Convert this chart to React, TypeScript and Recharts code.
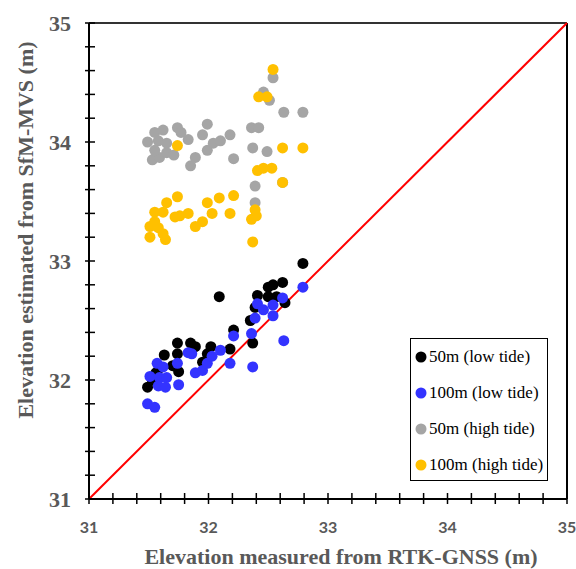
import {
  Label,
  Legend,
  ReferenceLine,
  Scatter,
  ScatterChart,
  XAxis,
  YAxis,
} from "recharts";

// [measured RTK-GNSS, estimated SfM-MVS] in metres
const lowTide50m: [number, number][] = [
  [31.49, 31.94], [31.53, 32.0], [31.59, 32.1], [31.63, 32.21], [31.74, 32.31],
  [31.74, 32.22], [31.85, 32.31], [31.89, 32.28], [32.02, 32.28], [31.99, 32.22],
  [31.95, 32.15], [31.75, 32.07], [32.09, 32.7], [32.21, 32.42], [32.18, 32.26],
  [32.35, 32.5], [32.37, 32.31], [32.39, 32.61], [32.41, 32.71], [32.5, 32.78],
  [32.54, 32.8], [32.62, 32.82], [32.5, 32.7], [32.57, 32.7], [32.64, 32.65],
  [32.79, 32.98], [31.7, 32.12], [31.56, 32.06],
];

const lowTide100m: [number, number][] = [
  [31.49, 31.8], [31.55, 31.77], [31.51, 32.03], [31.57, 32.14], [31.62, 32.11],
  [31.59, 32.02], [31.65, 32.02], [31.58, 31.95], [31.64, 31.94], [31.74, 32.14],
  [31.75, 31.96], [31.83, 32.23], [31.86, 32.22], [31.89, 32.06], [31.95, 32.08],
  [31.99, 32.14], [32.03, 32.2], [32.1, 32.25], [32.18, 32.14], [32.21, 32.37],
  [32.36, 32.39], [32.37, 32.11], [32.39, 32.52], [32.41, 32.64], [32.46, 32.59],
  [32.54, 32.63], [32.54, 32.54], [32.62, 32.69], [32.63, 32.33], [32.79, 32.78],
];

const highTide50m: [number, number][] = [
  [31.49, 34.0], [31.55, 34.08], [31.62, 34.1], [31.58, 34.01], [31.65, 33.99],
  [31.74, 34.12], [31.77, 34.08], [31.83, 34.02], [31.53, 33.85], [31.59, 33.87],
  [31.65, 33.91], [31.71, 33.89], [31.89, 33.87], [31.85, 33.8], [31.55, 33.93],
  [31.99, 34.15], [31.95, 34.06], [31.99, 33.93], [32.04, 33.99], [32.1, 34.01],
  [32.18, 34.06], [32.21, 33.86], [32.36, 34.12], [32.42, 34.12], [32.37, 33.95],
  [32.49, 33.92], [32.39, 33.63], [32.39, 33.49], [32.62, 33.66], [32.54, 34.54],
  [32.46, 34.42], [32.51, 34.35], [32.63, 34.25], [32.79, 34.25],
];

const highTide100m: [number, number][] = [
  [31.74, 33.97], [32.54, 34.61], [32.42, 34.38], [32.49, 34.38], [32.62, 33.95],
  [32.79, 33.95], [32.41, 33.76], [32.46, 33.78], [32.53, 33.78], [32.62, 33.66],
  [32.39, 33.43], [32.36, 33.35], [32.4, 33.38], [32.37, 33.16], [31.74, 33.54],
  [31.65, 33.49], [31.55, 33.41], [31.62, 33.41], [31.51, 33.29], [31.51, 33.2],
  [31.58, 33.28], [31.64, 33.18], [31.62, 33.23], [31.72, 33.37], [31.76, 33.38],
  [31.83, 33.4], [31.89, 33.29], [31.95, 33.33], [31.99, 33.49], [32.03, 33.4],
  [32.09, 33.53], [32.18, 33.4], [32.21, 33.55], [31.55, 33.33],
];

const axisTicks = [
  31, 31.2, 31.4, 31.6, 31.8, 32, 32.2, 32.4, 32.6, 32.8, 33,
  33.2, 33.4, 33.6, 33.8, 34, 34.2, 34.4, 34.6, 34.8, 35,
];

const series = [
  { name: "50m (low tide)", color: "#000000", points: lowTide50m },
  { name: "100m (low tide)", color: "#3333FF", points: lowTide100m },
  { name: "50m (high tide)", color: "#A5A5A5", points: highTide50m },
  { name: "100m (high tide)", color: "#FFC000", points: highTide100m },
];

const SERIF = "'Times New Roman', 'Liberation Serif', serif";
const GREY = "#595959";

const isMajor = (v: number) => Math.abs(v - Math.round(v)) < 1e-6;

function XTick({ x, y, payload }: any) {
  return (
    <g>
      <line x1={x} x2={x} y1={y - 6} y2={y + 5} stroke="#000" strokeWidth={1.5} />
      {isMajor(payload.value) && (
        <text
          x={x}
          y={y + 34}
          textAnchor="middle"
          fontFamily="Lato, 'Liberation Sans', sans-serif"
          fontWeight={700}
          fontSize={16}
          fill={GREY}
        >
          {Math.round(payload.value)}
        </text>
      )}
    </g>
  );
}

function YTick({ x, y, payload }: any) {
  return (
    <g>
      <line x1={x - 4} x2={x + 6} y1={y} y2={y} stroke="#000" strokeWidth={1.5} />
      {isMajor(payload.value) && (
        <text
          x={x - 18}
          y={y + 7.5}
          textAnchor="end"
          fontFamily={SERIF}
          fontWeight={700}
          fontSize={22}
          fill={GREY}
        >
          {Math.round(payload.value)}
        </text>
      )}
    </g>
  );
}

function Dot({ cx, cy, fill }: any) {
  return <circle cx={cx} cy={cy} r={5.5} fill={fill} />;
}

// legend follows the series order (black, blue, grey, orange), top to bottom
function LegendBox() {
  return (
    <div
      style={{
        width: 138,
        height: 143,
        border: "1.5px solid #000",
        background: "#fff",
        boxSizing: "border-box",
        paddingTop: 0,
        fontFamily: SERIF,
        fontSize: 17,
        color: "#000",
      }}
    >
      {series.map((s) => (
        <div
          key={s.name}
          style={{ display: "flex", alignItems: "center", height: 36, paddingLeft: 4 }}
        >
          <svg width={13} height={12} style={{ marginRight: 1, flexShrink: 0 }}>
            <circle cx={6} cy={6} r={5.5} fill={s.color} />
          </svg>
          <span style={{ whiteSpace: "nowrap" }}>{s.name}</span>
        </div>
      ))}
    </div>
  );
}

export default function App() {
  return (
    <div style={{ position: "absolute", left: 0, top: 0 }}>
      <ScatterChart
        width={576}
        height={569}
        margin={{ top: 23, right: 9, bottom: 0, left: 0 }}
      >
        <XAxis
          type="number"
          dataKey="x"
          domain={[31, 35]}
          ticks={axisTicks}
          interval={0}
          allowDataOverflow
          height={70}
          tickSize={0}
          tickMargin={0}
          tickLine={false}
          axisLine={{ stroke: "#000", strokeWidth: 2 }}
          tick={<XTick />}
        >
          <Label
            content={() => (
              <text
                x={341}
                y={564}
                textAnchor="middle"
                fontFamily={SERIF}
                fontWeight={700}
                fontSize={22}
                fill={GREY}
              >
                Elevation measured from RTK-GNSS (m)
              </text>
            )}
          />
        </XAxis>
        <YAxis
          type="number"
          dataKey="y"
          domain={[31, 35]}
          ticks={axisTicks}
          interval={0}
          allowDataOverflow
          width={89}
          tickSize={0}
          tickMargin={0}
          tickLine={false}
          axisLine={{ stroke: "#000", strokeWidth: 2 }}
          tick={<YTick />}
        >
          <Label
            content={() => (
              <text
                x={33}
                y={230}
                transform="rotate(-90 33 230)"
                textAnchor="middle"
                fontFamily={SERIF}
                fontWeight={700}
                fontSize={22}
                fill={GREY}
              >
                Elevation estimated from SfM-MVS (m)
              </text>
            )}
          />
        </YAxis>
        <ReferenceLine y={35} stroke="#333" strokeWidth={2} />
        <ReferenceLine x={35} stroke="#000" strokeWidth={2} />
        {series.map((s) => (
          <Scatter
            key={s.name}
            name={s.name}
            data={s.points.map(([x, y]) => ({ x, y }))}
            fill={s.color}
            shape={<Dot />}
            isAnimationActive={false}
          />
        ))}
        <ReferenceLine
          segment={[
            { x: 31, y: 31 },
            { x: 35, y: 35 },
          ]}
          stroke="#FF0000"
          strokeWidth={2}
        />
        <Legend
          layout="vertical"
          align="center"
          verticalAlign="middle"
          content={<LegendBox />}
          wrapperStyle={{ left: 410, top: 338, width: 138, height: 143 }}
        />
      </ScatterChart>
    </div>
  );
}
